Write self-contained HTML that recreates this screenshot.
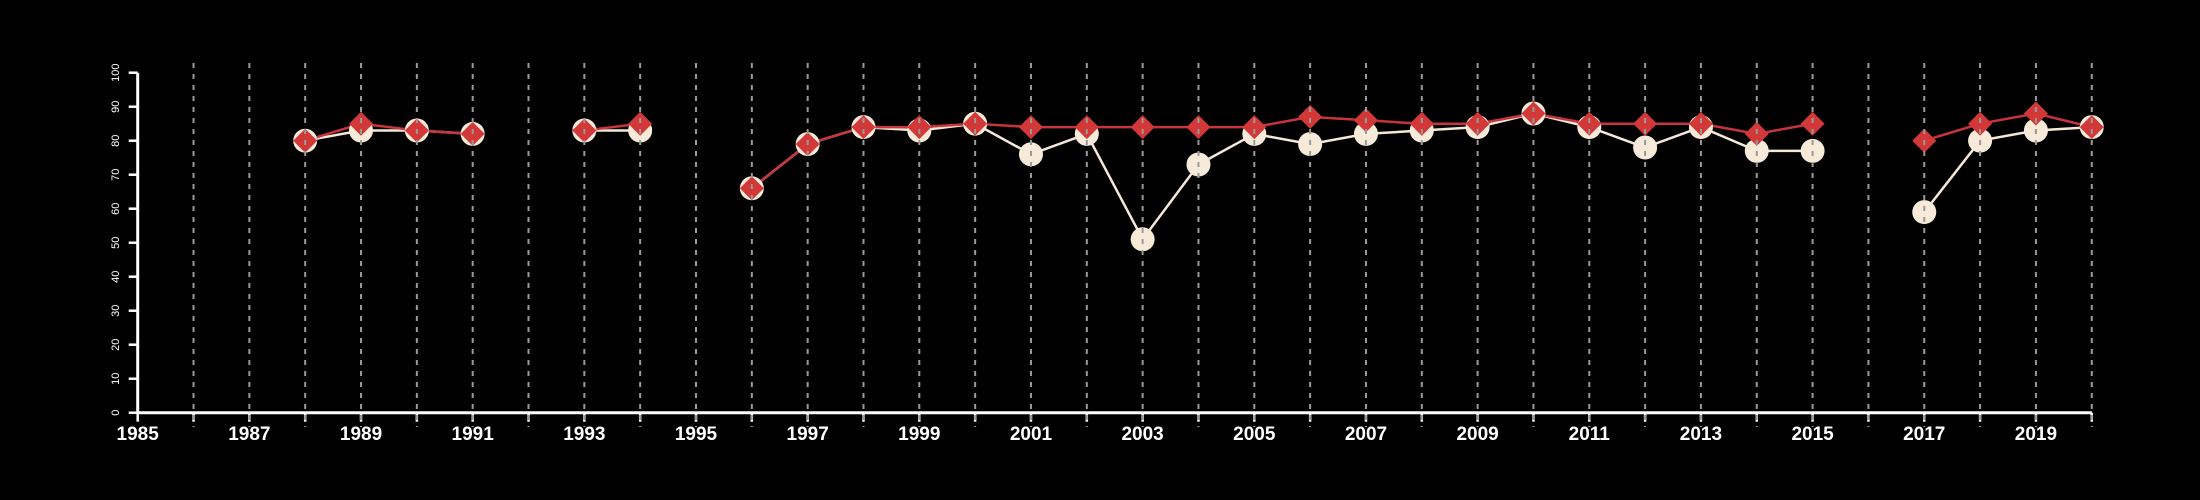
<!DOCTYPE html>
<html><head><meta charset="utf-8"><style>
html,body{margin:0;padding:0;background:#000;}
svg{display:block;}
text{font-family:"Liberation Sans",Arial,sans-serif;fill:#fff;}
</style></head><body>
<svg id="chart" width="2200" height="500" viewBox="0 0 2200 500" xmlns="http://www.w3.org/2000/svg">
<rect width="2200" height="500" fill="#000"/>
<g id="grid"></g><g id="axes"></g><g id="series"></g><g id="grid-top"></g>
</svg>
<script>
const years = [1988,1989,1990,1991,1992,1993,1994,1995,1996,1997,1998,1999,2000,2001,2002,2003,2004,2005,2006,2007,2008,2009,2010,2011,2012,2013,2014,2015,2016,2017,2018,2019,2020];
const seriesCream = [80,83,83,82,null,83,83,null,66,79,84,83,85,76,82,51,73,82,79,82,83,84,88,84,78,84,77,77,null,59,80,83,84];
const seriesRed = [80,85,83,82,null,83,85,null,66,79,84,84,85,84,84,84,84,84,87,86,85,85,88,85,85,85,82,85,null,80,85,88,84];
const yTicks = [0,10,20,30,40,50,60,70,80,90,100];
const xLabelYears = [1985,1987,1989,1991,1993,1995,1997,1999,2001,2003,2005,2007,2009,2011,2013,2015,2017,2019];

const NS="http://www.w3.org/2000/svg";
const X0=137.7, XSTEP=55.83, Y0=412.7, YTOP=72.7;
const xs=y=>X0+(y-1985)*XSTEP;
const ys=v=>Y0-(v/100)*(Y0-YTOP);
function mk(tag,attrs,parent){const e=document.createElementNS(NS,tag);for(const k in attrs)e.setAttribute(k,attrs[k]);parent.appendChild(e);return e;}
const axes=document.getElementById('axes'), grid=document.getElementById('grid-top'), ser=document.getElementById('series');

// gridlines (drawn on top)
for(let y=1986;y<=2020;y++){
  const l=mk('line',{x1:xs(y),x2:xs(y),y1:63,y2:427,stroke:'#9a9a9a','stroke-width':2,'stroke-dasharray':'5,6'},grid);
  
  
}
// x axis
const xa=mk('line',{x1:xs(1985),x2:xs(2020),y1:Y0,y2:Y0,stroke:'#fff','stroke-width':3},axes);


for(let y=1985;y<=2020;y++){
  const t=mk('line',{x1:xs(y),x2:xs(y),y1:Y0,y2:Y0+9,stroke:'#fff','stroke-width':2.5},axes);
  
  
}
xLabelYears.forEach(y=>{
  const t=mk('text',{x:xs(y),y:440,'text-anchor':'middle','font-size':19,'font-weight':'bold'},axes);
  t.textContent=y;
  
  
});
// y axis
const ya=mk('line',{x1:X0,x2:X0,y1:YTOP,y2:Y0,stroke:'#fff','stroke-width':3},axes);


yTicks.forEach(v=>{
  const t=mk('line',{x1:X0-9,x2:X0,y1:ys(v),y2:ys(v),stroke:'#fff','stroke-width':2.5},axes);
  
  
  const l=mk('text',{x:0,y:0,'text-anchor':'middle','font-size':11,transform:`translate(119,${ys(v)}) rotate(-90)`},axes);
  l.textContent=v;
  
  
});
// series lines
function drawLine(vals,color,name){
  let seg=[];
  const flush=()=>{ if(seg.length>1){const p=mk('polyline',{points:seg.join(' '),fill:'none',stroke:color,'stroke-width':2.5},ser);
    
    } seg=[]; };
  vals.forEach((v,i)=>{ if(v==null){flush();} else seg.push(xs(years[i])+','+ys(v)); });
  flush();
}
drawLine(seriesCream,'#f5e8d6','cream-series');
drawLine(seriesRed,'#c8343c','red-series');
seriesCream.forEach((v,i)=>{ if(v==null)return;
  const c=mk('circle',{cx:xs(years[i]),cy:ys(v),r:12,fill:'#f7ead8'},ser);
  
  
});
seriesRed.forEach((v,i)=>{ if(v==null)return;
  const x=xs(years[i]),y=ys(v),d=12;
  const p=mk('polygon',{points:`${x},${y-d} ${x+d},${y} ${x},${y+d} ${x-d},${y}`,fill:'#d23838'},ser);
  
  
});
</script>
</body></html>
